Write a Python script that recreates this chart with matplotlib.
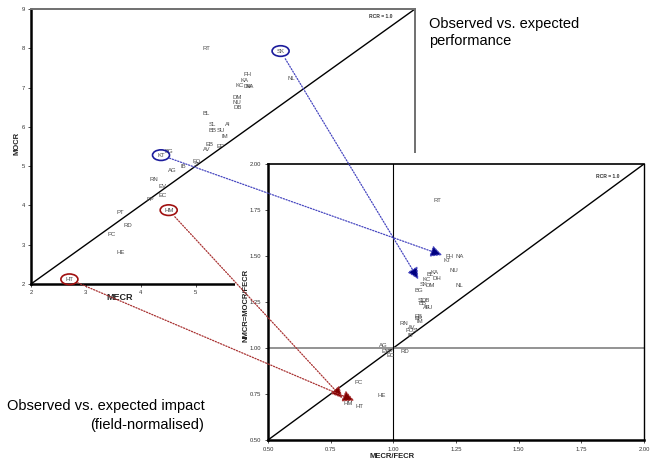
import matplotlib
matplotlib.use("Agg")
import matplotlib.pyplot as plt
from matplotlib.patches import Rectangle, Ellipse, ConnectionPatch

plt.rcParams['font.family'] = ['Liberation Sans', 'DejaVu Sans']

# ---------------------------------------------------------------------------
# DATA - left chart (observed vs expected performance), label positions
# ---------------------------------------------------------------------------
left_codes = ['RT', 'SK', 'FH', 'KA', 'KC', 'DH', 'NA', 'NL', 'DM', 'NU', 'DB', 'BL', 'SL', 'AI',
              'BB', 'SU', 'IM', 'EB', 'AV', 'EP', 'BG', 'KT', 'FO', 'SI', 'IB', 'AG', 'RN',
              'EV', 'EC', 'FP', 'HM', 'PT', 'RD', 'PC', 'HE', 'HT']
mecr = [5.20, 6.55, 5.94, 5.90, 5.81, 5.96, 5.99, 6.74, 5.75, 5.75, 5.77, 5.20, 5.31, 5.59,
        5.31, 5.46, 5.53, 5.25, 5.20, 5.46, 4.51, 4.37, 5.02, 5.02, 4.78, 4.58, 4.24,
        4.40, 4.40, 4.17, 4.51, 3.63, 3.77, 3.47, 3.63, 2.70]
mocr = [8.00, 7.93, 7.32, 7.17, 7.06, 7.04, 7.03, 7.22, 6.74, 6.63, 6.48, 6.35, 6.05, 6.05,
        5.92, 5.90, 5.75, 5.56, 5.42, 5.49, 5.38, 5.28, 5.13, 5.03, 4.98, 4.90, 4.65,
        4.49, 4.26, 4.16, 3.88, 3.83, 3.50, 3.25, 2.81, 2.12]

# ---------------------------------------------------------------------------
# DATA - right chart (field normalised), point positions
# ---------------------------------------------------------------------------
right_codes = ['RT', 'FH', 'KT', 'NA', 'NU', 'BL', 'KA', 'DH', 'KC', 'SK', 'DM', 'NL', 'BG',
               'SL', 'DB', 'BB', 'AI', 'SU', 'EB', 'EP', 'IM', 'RN', 'AV', 'FO', 'SI', 'IB',
               'AG', 'EV', 'FP', 'EC', 'RD', 'PC', 'HE', 'HM', 'HT']
mecr_fecr = [1.157, 1.203, 1.195, 1.246, 1.220, 1.126, 1.146, 1.154, 1.114, 1.100, 1.129, 1.242,
             1.082, 1.090, 1.108, 1.097, 1.110, 1.120, 1.082, 1.082, 1.085, 1.021, 1.054,
             1.044, 1.070, 1.046, 0.940, 0.950, 0.965, 0.970, 1.025, 0.843, 0.932, 0.798, 0.844]
nmcr = [1.834, 1.530, 1.505, 1.525, 1.454, 1.432, 1.438, 1.410, 1.400, 1.373, 1.372, 1.372,
        1.345, 1.291, 1.291, 1.273, 1.251, 1.251, 1.200, 1.190, 1.173, 1.166, 1.142,
        1.126, 1.123, 1.100, 1.046, 1.010, 1.010, 0.987, 1.010, 0.840, 0.772, 0.727, 0.714]

# highlighted journals and their colours
highlight = ['KT', 'SK', 'HM', 'HT']
hl_edge = {'KT': '#1c1c9c', 'SK': '#1c1c9c', 'HM': '#a01010', 'HT': '#a01010'}
hl_line = {'KT': '#4646c0', 'SK': '#4646c0', 'HM': '#a83030', 'HT': '#a83030'}
hl_head = {'KT': '#000080', 'SK': '#000080', 'HM': '#800000', 'HT': '#800000'}

W, H = 652, 462
fig = plt.figure(figsize=(W / 100, H / 100), dpi=100)
fig.patch.set_facecolor('white')

lab_color = '#4a4a4a'
lab_size = 4.3

#=================================================================================================
# LEFT CHART
#=================================================================================================
ax1 = fig.add_axes([31 / W, 1 - 284 / H, (415 - 31) / W, (284 - 9) / H])
ax1.set_zorder(1)
ax1.set_xlim(2, 9)
ax1.set_ylim(2, 9)
ax1.plot([2, 9], [2, 9], color='black', lw=1.0)
for c, x, y in zip(left_codes, mecr, mocr):
    ax1.text(x, y, c, fontsize=lab_size, color=lab_color, ha='center', va='center')
for c in highlight:
    i = left_codes.index(c)
    ax1.add_patch(Ellipse((mecr[i], mocr[i]), 0.31, 0.27, fill=False,
                          ec=hl_edge[c], lw=1.2, clip_on=False, zorder=4))
ax1.text(8.37, 8.8, 'RCR = 1.0', fontsize=3.6, weight='bold', color='#333333',
         ha='center', va='center')
ax1.set_xticks(range(2, 10))
ax1.set_yticks(range(2, 10))
ax1.tick_params(labelsize=4.2, length=2, width=0.6, colors='#333333', pad=2)
for s in ['left', 'bottom']:
    ax1.spines[s].set_linewidth(1.8)
for s in ['top', 'right']:
    ax1.spines[s].set_linewidth(1.4)
    ax1.spines[s].set_color('#707070')

# white panel behind the second chart
fig.add_artist(Rectangle((235 / W, 0), 1 - 235 / W, (462 - 153) / H,
                         transform=fig.transFigure, fc='white', ec='none', zorder=2))

#=================================================================================================
# RIGHT CHART
#=================================================================================================
ax2 = fig.add_axes([268 / W, 1 - 440 / H, (644 - 268) / W, (440 - 164) / H])
ax2.set_zorder(3)
ax2.set_xlim(0.5, 2.0)
ax2.set_ylim(0.5, 2.0)
ax2.plot([0.5, 2.0], [0.5, 2.0], color='black', lw=1.0)
ax2.axhline(1.0, color='#8a8a8a', lw=1.3)
ax2.axvline(1.0, color='black', lw=0.8)
for c, x, y in zip(right_codes, mecr_fecr, nmcr):
    ax2.annotate(c, (x, y), xytext=(3.6, -4), textcoords='offset points',
                 fontsize=lab_size, color=lab_color, ha='center', va='center')
ax2.text(1.856, 1.93, 'RCR = 1.0', fontsize=3.6, weight='bold', color='#333333',
         ha='center', va='center')
ticks2 = [0.5, 0.75, 1.0, 1.25, 1.5, 1.75, 2.0]
ax2.set_xticks(ticks2)
ax2.set_yticks(ticks2)
ax2.set_xticklabels(['%.2f' % t for t in ticks2])
ax2.set_yticklabels(['%.2f' % t for t in ticks2])
ax2.tick_params(labelsize=4.2, length=2, width=0.6, colors='#333333', pad=3)
for s in ['left', 'bottom']:
    ax2.spines[s].set_linewidth(1.8)
ax2.spines['top'].set_linewidth(1.2)
ax2.spines['right'].set_linewidth(1.0)

# arrows from the circled journals to their normalised position
for c in highlight:
    i = left_codes.index(c)
    j = right_codes.index(c)
    con = ConnectionPatch(xyA=(mecr[i], mocr[i]), coordsA=ax1.transData,
                          xyB=(mecr_fecr[j], nmcr[j]), coordsB=ax2.transData,
                          arrowstyle='-|>,head_length=0.7,head_width=0.35',
                          mutation_scale=10, shrinkA=6.5, shrinkB=0,
                          linestyle=(0, (1.0, 1.3)), lw=0.9, ec=hl_line[c], fc=hl_head[c],
                          zorder=6)
    fig.add_artist(con)

#=================================================================================================
# AXIS TITLES AND CAPTIONS
#=================================================================================================
fig.text(17 / W, 1 - 143 / H, 'MOCR', rotation=90, ha='center', va='center',
         fontsize=5.5, weight='bold', color='#222222')
fig.text(120 / W, 1 - 297 / H, 'MECR', ha='center', va='center',
         fontsize=6.5, weight='bold', color='#222222', zorder=1)
fig.text(246 / W, 1 - 305 / H, 'NMCR=MOCR/FECR', rotation=90, ha='center', va='center',
         fontsize=5.5, weight='bold', color='#222222', zorder=4)
fig.text(392 / W, 1 - 456 / H, 'MECR/FECR', ha='center', va='center',
         fontsize=5.5, weight='bold', color='#222222', zorder=4)

fig.text(429 / W, 1 - 24 / H, 'Observed vs. expected', ha='left', va='center', fontsize=10.5)
fig.text(429 / W, 1 - 41 / H, 'performance', ha='left', va='center', fontsize=10.5)
fig.text(7 / W, 1 - 406 / H, 'Observed vs. expected impact', ha='left', va='center',
         fontsize=10.5, zorder=4)
fig.text(204 / W, 1 - 425 / H, '(field-normalised)', ha='right', va='center',
         fontsize=10.5, zorder=4)

fig.savefig('out.png', dpi=100)
